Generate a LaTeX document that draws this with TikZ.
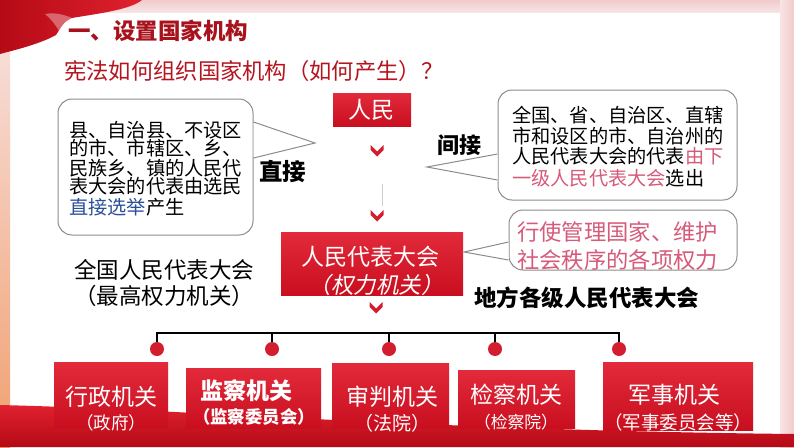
\documentclass[tikz,border=0pt]{standalone}
\usepackage{fontspec}
\newfontfamily\cjk{Noto Sans CJK SC}
\newfontfamily\cjkit{Noto Sans CJK SC}[FakeSlant=0.2]
\definecolor{titlered}{HTML}{A8121C}
\definecolor{subred}{HTML}{B5141F}
\definecolor{boxtop}{HTML}{E22A3B}
\definecolor{boxbot}{HTML}{C90F1F}
\definecolor{pinktext}{HTML}{D65A7A}
\definecolor{bluetext}{HTML}{2A4F9A}
\definecolor{callgray}{HTML}{8C8C8C}
\definecolor{chevred}{HTML}{D21E2E}
\definecolor{bandpink}{HTML}{F1CACC}
\definecolor{bandpink2}{HTML}{F8E4E4}
\definecolor{waveA}{HTML}{E0212F}
\definecolor{waveB}{HTML}{B50A16}
\definecolor{leftorange}{HTML}{F0A070}
\begin{document}
\begin{tikzpicture}[x=1pt,y=-1pt,
  redbox/.style={rectangle, top color=boxtop, bottom color=boxbot, draw=none, inner sep=0},
  callout/.style={rectangle, rounded corners=14pt, draw=callgray, line width=1pt, fill=white, inner sep=0},
  tail/.style={draw=callgray, line width=1pt},
  ctext/.style={anchor=west, inner sep=0, font=\cjk\fontsize{19.2}{20}\selectfont},
  bigtext/.style={inner sep=0, font=\cjk\fontsize{22.5}{26}\selectfont},
  boldtext/.style={inner sep=0, font=\cjk\bfseries\fontsize{22.5}{26}\selectfont},
  wtext/.style={inner sep=0, text=white, font=\cjk\fontsize{23}{26}\selectfont},
  wsub/.style={inner sep=0, text=white, font=\cjk\fontsize{17.5}{20}\selectfont},
  dot/.style={circle, fill=chevred, minimum size=14pt, inner sep=0},
  treeline/.style={draw=black, line width=1.8pt},
  chevron/.pic={\fill[chevred] (-6.5,-5) -- (0,1.5) -- (6.5,-5) -- (6.5,0) -- (0,6.5) -- (-6.5,0) -- cycle;}
]
\useasboundingbox (0,0) rectangle (794,447);
% background
\fill[white] (0,0) rectangle (794,447);
\shade[top color=bandpink, bottom color=bandpink2] (0,0) rectangle (794,12);
\shade[left color=bandpink2, right color=bandpink] (780,0) rectangle (794,447);
\shade[top color=bandpink2, bottom color=leftorange] (0,0) rectangle (10,447);
% ribbon top-left
\shade[left color=waveB, right color=waveA] (0,0) -- (142,0) .. controls (130,10) and (95,14) .. (72,18) .. controls (62,22) and (60,30) .. (56,35) .. controls (40,44) and (15,50) .. (0,54) -- cycle;
\fill[white, opacity=0.35] (45,14) .. controls (55,12) and (65,15) .. (72,18) .. controls (64,22) and (61,27) .. (59,31) .. controls (55,24) and (50,18) .. cycle;
% bottom wave
\shade[top color=waveA, bottom color=waveB] (0,405) .. controls (200,410) and (420,430) .. (794,434) -- (794,447) -- (0,447) -- cycle;

% titles
\node[anchor=west, inner sep=0, text=titlered, font=\cjk\bfseries\fontsize{22.5}{26}\selectfont] (t1) at (68,31) {一、设置国家机构};
\node[anchor=west, inner sep=0, text=subred, font=\cjk\fontsize{22.3}{26}\selectfont] (t2) at (64,71) {宪法如何组织国家机构（如何产生）？};

% people box
\node[redbox, minimum width=78pt, minimum height=33pt] (people) at (372,109.5) {};
\node[wtext] (peoplet) at (371,110) {人民};
\pic at (377,150) {chevron};
\draw[black!20, line width=1pt] (382,184) -- (382,206);
\pic at (377,215) {chevron};

% NPC box
\node[redbox, minimum width=182pt, minimum height=63pt] (npc) at (372,263.5) {};
\node[wtext] (npct1) at (370.5,257) {人民代表大会};
\node[inner sep=0, text=white, font=\cjkit\fontsize{22.5}{26}\selectfont] (npct2) at (376,285) {（权力机关）};
\pic at (376,307) {chevron};

% left callout
\node[callout, minimum width=195pt, minimum height=136pt] (lcall) at (155.5,167) {};
\coordinate (ltip) at (315,143);
\fill[white] ([yshift=-1pt]lcall.east |- 0,122) -- (ltip) -- ([yshift=1pt]lcall.east |- 0,158) -- cycle;
\draw[tail] (lcall.east |- 0,122) -- (ltip) -- (lcall.east |- 0,158);
\node[ctext] (l1) at (69,130) {县、自治县、不设区};
\node[ctext] (l2) at (69,148) {的市、市辖区、乡、};
\node[ctext] (l3) at (69,168) {民族乡、镇的人民代};
\node[ctext] (l4) at (69,186) {表大会的代表由选民};
\node[ctext] (l5) at (69,207) {\textcolor{bluetext}{直接选举}产生};
\node[boldtext, anchor=west, font=\cjk\bfseries\fontsize{23.5}{26}\selectfont] (zj) at (259,172) {直接};

% right callout 1
\node[callout, minimum width=239pt, minimum height=110pt] (rcall) at (617.5,145) {};
\coordinate (rtip) at (427,167);
\fill[white] ([yshift=1pt]rcall.west |- 0,154) -- (rtip) -- ([yshift=-1pt]rcall.west |- 0,180) -- cycle;
\draw[tail] (rcall.west |- 0,154) -- (rtip) -- (rcall.west |- 0,180);
\node[ctext] (r1) at (512,115) {全国、省、自治区、直辖};
\node[ctext] (r2) at (512,136) {市和设区的市、自治州的};
\node[ctext] (r3) at (512,156) {人民代表大会的代表\textcolor{pinktext}{由下}};
\node[ctext] (r4) at (512,178) {\textcolor{pinktext}{一级人民代表大会}选出};
\node[boldtext, anchor=west, font=\cjk\bfseries\fontsize{22}{26}\selectfont] (jj) at (437,145) {间接};

% right callout 2
\node[callout, minimum width=228pt, minimum height=60pt] (pcall) at (623,240) {};
\coordinate (ptip) at (464,252);
\fill[white] ([yshift=1pt]pcall.west |- 0,242) -- (ptip) -- ([yshift=-1pt]pcall.west |- 0,260) -- cycle;
\draw[tail] (pcall.west |- 0,242) -- (ptip) -- (pcall.west |- 0,260);
\node[ctext, text=pinktext, font=\cjk\fontsize{22.3}{24}\selectfont] (p1) at (517,232) {行使管理国家、维护};
\node[ctext, text=pinktext, font=\cjk\fontsize{22.3}{24}\selectfont] (p2) at (517,260) {社会秩序的各项权力};

% side labels
\node[bigtext] (qg1) at (164,270) {全国人民代表大会};
\node[bigtext] (qg2) at (164,296) {（最高权力机关）};
\node[boldtext, anchor=west] (df) at (474,298) {地方各级人民代表大会};

% tree
\coordinate (p1c) at (157,349);
\coordinate (p2c) at (272,349);
\coordinate (p3c) at (389,349);
\coordinate (p4c) at (495,349);
\coordinate (p5c) at (619,349);
\draw[treeline] (p1c) -- (157,333) -- (619,333) -- (p5c);
\draw[treeline] (p2c) -- (p2c |- 0,333);
\draw[treeline] (p3c) -- (p3c |- 0,333);
\draw[treeline] (p4c) -- (p4c |- 0,333);
\node[dot] (d1) at (p1c) {};
\node[dot] (d2) at (p2c) {};
\node[dot] (d3) at (p3c) {};
\node[dot] (d4) at (p4c) {};
\node[dot] (d5) at (p5c) {};

% bottom boxes
\node[redbox, minimum width=114pt, minimum height=66pt] (b1) at (111,395) {};
\node[redbox, minimum width=135pt, minimum height=60pt] (b2) at (253.5,398) {};
\node[redbox, minimum width=117pt, minimum height=65pt] (b3) at (390.5,395.5) {};
\node[redbox, minimum width=117pt, minimum height=58pt] (b4) at (516.5,399) {};
\node[redbox, minimum width=150pt, minimum height=68pt] (b5) at (678,396) {};
\node[wtext] (b1a) at (111,397) {行政机关};
\node[wsub] (b1b) at (111,423) {（政府）};
\node[wtext, font=\cjk\bfseries\fontsize{23}{26}\selectfont] (b2a) at (246,391) {监察机关};
\node[wsub, font=\cjk\bfseries\fontsize{17.4}{20}\selectfont] (b2b) at (254,417) {（监察委员会）};
\node[wtext] (b3a) at (392,397) {审判机关};
\node[wsub, font=\cjk\fontsize{19}{20}\selectfont] (b3b) at (392,423) {（法院）};
\node[wtext] (b4a) at (516,395) {检察机关};
\node[wsub, font=\cjk\fontsize{16.8}{20}\selectfont] (b4b) at (516,422) {（检察院）};
\node[wtext] (b5a) at (674,395) {军事机关};
\node[wsub, font=\cjk\fontsize{18.5}{20}\selectfont] (b5b) at (678,422) {（军事委员会等）};
\end{tikzpicture}
\end{document}
